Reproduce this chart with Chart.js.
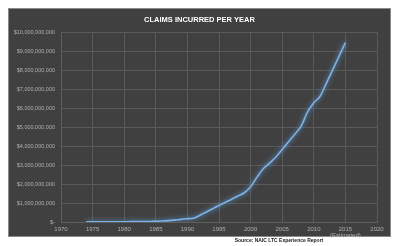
<!DOCTYPE html>
<html>
<head>
<meta charset="utf-8">
<script src="https://cdn.jsdelivr.net/npm/chart.js@4/dist/chart.umd.min.js"></script>
<style>
html,body{margin:0;padding:0;background:#ffffff;}
#wrap{position:relative;width:399px;height:246px;}
</style>
</head>
<body>
<div id="wrap"><canvas id="c"></canvas></div>
<script>
const chartTitle = 'CLAIMS INCURRED PER YEAR';
const sourceNote = 'Source: NAIC LTC Experience Report';
const years = [1974,1975,1976,1977,1978,1979,1980,1981,1982,1983,1984,1985,1986,1987,1988,1989,1990,1991,1992,1993,1994,1995,1996,1997,1998,1999,2000,2001,2002,2003,2004,2005,2006,2007,2008,2009,2010,2011,2012,2013,2014,2015];
// claims incurred, billions of dollars
const claimsBillions = [0.01,0.01,0.01,0.01,0.01,0.01,0.01,0.02,0.02,0.02,0.03,0.04,0.05,0.07,0.10,0.14,0.17,0.20,0.36,0.53,0.70,0.87,1.04,1.20,1.37,1.54,1.86,2.35,2.80,3.10,3.42,3.82,4.22,4.62,5.05,5.78,6.28,6.62,7.31,8.02,8.73,9.44];
const xTickYears = [1970,1975,1980,1985,1990,1995,2000,2005,2010,2015,2020];
const estimatedYear = 2015;
const estimatedLabel = '(Estimated)';

const panelPlugin = {
  id:'panel',
  beforeDraw(chart){
    const ctx = chart.ctx;
    ctx.save();
    ctx.fillStyle = '#ffffff';
    ctx.fillRect(0,0,chart.width,chart.height);
    ctx.fillStyle = '#404040';
    ctx.fillRect(8,8,383,229);
    ctx.strokeStyle = '#8a8a8a';
    ctx.lineWidth = 1;
    ctx.strokeRect(8.5,8.5,382,228);
    ctx.fillStyle = '#ffffff';
    ctx.font = 'bold 7.5px "Liberation Sans", Arial, sans-serif';
    ctx.textAlign = 'center';
    ctx.textBaseline = 'middle';
    ctx.fillText(chartTitle, 199.5, 19.5);
    ctx.restore();
  },
  afterDraw(chart){
    const ctx = chart.ctx;
    ctx.save();
    ctx.fillStyle = '#222222';
    ctx.font = 'bold 5px "Liberation Sans", Arial, sans-serif';
    ctx.textAlign = 'center';
    ctx.textBaseline = 'middle';
    ctx.fillText(sourceNote, 279, 240.5);
    ctx.restore();
  }
};

const glowPlugin = {
  id:'glow',
  beforeDatasetDraw(chart){
    const ctx = chart.ctx;
    ctx.save();
    ctx.shadowColor = 'rgba(110,175,240,0.95)';
    ctx.shadowBlur = 5;
  },
  afterDatasetDraw(chart){
    chart.ctx.restore();
  }
};

new Chart(document.getElementById('c'), {
  type:'line',
  data:{
    datasets:[{
      data: years.map((y,i)=>({x:y, y:claimsBillions[i]})),
      borderColor:'#79b3ea',
      borderWidth:1.6,
      pointRadius:0,
      fill:false,
      cubicInterpolationMode:'monotone'
    }]
  },
  options:{
    responsive:true,
    maintainAspectRatio:false,
    animation:false,
    devicePixelRatio:1,
    layout:{padding:{top:32,right:22,bottom:0,left:0}},
    plugins:{legend:{display:false},title:{display:false},tooltip:{enabled:false}},
    scales:{
      x:{
        type:'linear',
        min:1970,max:2020,
        afterBuildTicks(scale){ scale.ticks = xTickYears.map(v=>({value:v})); },
        afterFit(scale){ scale.height = 24; },
        grid:{color:'#5a5a5a',lineWidth:1,drawTicks:false},
        border:{color:'#5f5f5f'},
        ticks:{
          autoSkip:false,
          color:'#b0b0b0',
          padding:4,
          maxRotation:0,
          minRotation:0,
          font:{family:'"Liberation Sans", Arial, sans-serif',size:6,lineHeight:1.0},
          callback:(v)=> v===estimatedYear ? [String(v), estimatedLabel] : String(v)
        }
      },
      y:{
        min:0,max:10,
        afterFit(scale){ scale.width = 61; },
        grid:{color:'#5a5a5a',lineWidth:1,drawTicks:false},
        border:{color:'#5f5f5f'},
        ticks:{
          stepSize:1,
          color:'#b0b0b0',
          padding:6,
          font:{family:'"Liberation Sans", Arial, sans-serif',size:5.5},
          callback:(v)=> v===0 ? '$-' : '$' + (v*1e9).toLocaleString('en-US')
        }
      }
    }
  },
  plugins:[panelPlugin, glowPlugin]
});
</script>
</body>
</html>
